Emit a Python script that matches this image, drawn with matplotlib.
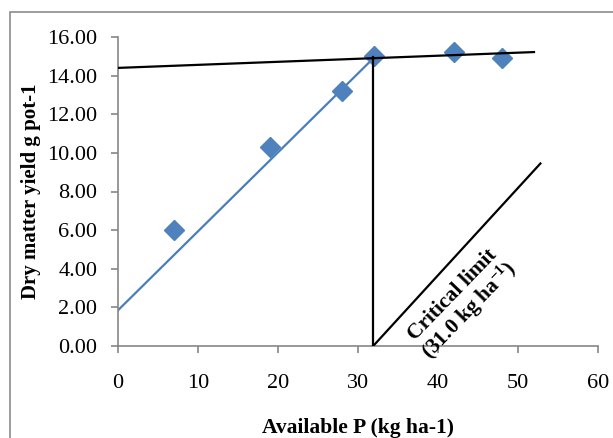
import matplotlib.pyplot as plt
from matplotlib.patches import Rectangle

# observed points
avail_p = [7, 19, 28, 32, 42, 48]
dry_matter = [6.0, 10.3, 13.2, 15.0, 15.2, 14.9]

# hand drawn lines of the figure
rise_x = [0, 31.8]
rise_y = [1.85, 14.85]
plateau_x = [0, 52]
plateau_y = [14.4, 15.22]
drop_x = [31.9, 31.9]
drop_y = [14.95, 0.0]
pointer_x = [31.9, 52.8]
pointer_y = [0.0, 9.45]

plt.rcParams["font.family"] = ["Liberation Serif", "DejaVu Serif"]
plt.rcParams["mathtext.fontset"] = "custom"
plt.rcParams["mathtext.rm"] = "Liberation Serif:bold"
plt.rcParams["mathtext.bf"] = "Liberation Serif:bold"
plt.rcParams["mathtext.it"] = "Liberation Serif:bold"
grey = "#868686"

fig = plt.figure(figsize=(6.13, 4.38), dpi=100)
fig.patches.append(Rectangle((10 / 613, -0.1), 1.2, 1 - 12 / 438 + 0.1,
                             transform=fig.transFigure, fill=False,
                             edgecolor="#8c8c8c", linewidth=1.2))
ax = fig.add_axes([118 / 613, 1 - 346 / 438, 480 / 613, 309 / 438])

ax.plot(rise_x, rise_y, color="#4a7ebb", linewidth=1.6, zorder=2)
ax.plot(avail_p, dry_matter, linestyle="none", marker="D", markersize=10.5,
        color="#4f81bd", zorder=3)
ax.plot(plateau_x, plateau_y, color="black", linewidth=1.6, zorder=4)
ax.plot(drop_x, drop_y, color="black", linewidth=1.6, zorder=4)
ax.plot(pointer_x, pointer_y, color="black", linewidth=1.6, zorder=4)

ax.text(43, 2.2, "Critical limit\n(31.0 kg ha$^{-1}$)", rotation=46,
        ha="center", va="center", fontsize=15.5, fontweight="bold",
        linespacing=0.95, rotation_mode="anchor", clip_on=False)

ax.set_xlim(0, 60)
ax.set_ylim(0, 16)
ax.set_xticks(range(0, 61, 10))
ax.set_yticks(range(0, 17, 2))
ax.set_yticklabels([f"{v:.2f}" for v in range(0, 17, 2)])
for s in ["top", "right"]:
    ax.spines[s].set_visible(False)
for s in ["left", "bottom"]:
    ax.spines[s].set_color(grey)
    ax.spines[s].set_linewidth(1.2)
ax.tick_params(direction="out", length=5, width=1.2, color=grey,
               labelsize=16, pad=10)
ax.tick_params(axis="x", pad=15)

ax.set_xlabel("Available P (kg ha-1)", fontsize=15.5, fontweight="bold",
              labelpad=18)
ax.set_ylabel("Dry matter yield g pot-1", fontsize=15, fontweight="bold",
              labelpad=4)

fig.savefig("out.png", dpi=100)
